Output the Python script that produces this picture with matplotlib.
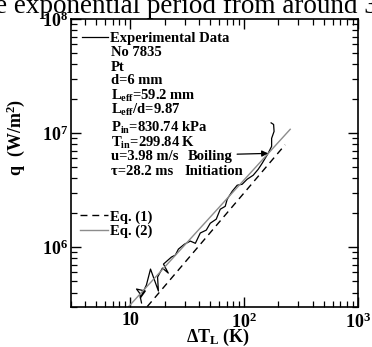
import numpy as np
import matplotlib
matplotlib.use("Agg")
import matplotlib.pyplot as plt
from matplotlib.lines import Line2D

plt.rcParams.update({
    "font.family": "Liberation Serif",
    "font.weight": "bold",
    "axes.labelweight": "bold",
    "mathtext.fontset": "custom",
    "mathtext.rm": "Liberation Serif:bold",
    "mathtext.it": "Liberation Serif:bold",
    "mathtext.bf": "Liberation Serif:bold",
})

exp_dT = [12.5, 12.0, 11.3, 13.5, 12.2, 13.8, 15.0, 17.6, 17.3, 19.1, 21.5, 19.5,
          22.9, 24.8, 26.4, 29.8, 33.6, 37.2, 41.1, 46.4, 50.3, 56.8, 61.6, 68.1,
          70.9, 78.5, 86.8, 96.0, 106.2, 120.0, 132.7, 143.8, 152.9, 162.4,
          174.3, 174.3, 183.2, 181.5, 172.6]
exp_q = [3.24e5, 3.96e5, 4.29e5, 4.12e5, 3.58e5, 4.65e5, 6.42e5, 4.12e5, 5.46e5,
         6.55e5, 5.92e5, 7.10e5, 8.18e5, 8.51e5, 9.61e5, 1.06e6, 1.13e6, 1.08e6,
         1.33e6, 1.41e6, 1.62e6, 1.76e6, 2.15e6, 2.28e6, 2.63e6, 3.09e6, 3.49e6,
         3.56e6, 3.94e6, 4.27e6, 4.81e6, 5.43e6, 6.01e6, 6.64e6, 7.65e6, 8.99e6,
         1.035e7, 1.19e7, 1.23e7]
boil_idx = 33  # boiling initiation point

# correlation lines
eq1_dT = [14.0, 229.0]
eq1_q = [3.0e5, 7.9e6]
eq2_dT = [9.6, 254.0]
eq2_q = [3.0e5, 1.08e7]

info = ["No 7835", "Pt", "d=6 mm", "L$_\\mathdefault{eff}$=59.2 mm",
        "L$_\\mathdefault{eff}$/d=9.87", "P$_\\mathdefault{in}$=830.74 kPa",
        "T$_\\mathdefault{in}$=299.84 K", "u=3.98 m/s", "\u03c4=28.2 ms"]
info_y = [0.885, 0.833, 0.785, 0.733, 0.684, 0.622, 0.569, 0.521, 0.469]

fig = plt.figure(figsize=(3.72, 3.47), dpi=100)
ax = fig.add_axes([0.191, 0.116, 0.771, 0.829])

ax.plot(exp_dT, exp_q, color="black", lw=0.9)
ax.plot(eq1_dT, eq1_q, color="black", lw=1.0, dashes=(5, 3.5))
ax.plot(eq2_dT, eq2_q, color="#8c8c8c", lw=1.0)

ax.set_xscale("log")
ax.set_yscale("log")
ax.set_xlim(3, 1000)
ax.set_ylim(3e5, 1e8)

ax.set_xticks([10, 100, 1000])
ax.set_xticklabels(["10", "$\\mathdefault{10^{2}}$", "$\\mathdefault{10^{3}}$"])
ax.set_yticks([1e6, 1e7, 1e8])
ax.set_yticklabels(["$\\mathdefault{10^{6}}$", "$\\mathdefault{10^{7}}$",
                    "$\\mathdefault{10^{8}}$"])

ax.tick_params(which="both", direction="in", top=True, right=True, labelsize=13)
ax.tick_params(which="major", length=7, width=1)
ax.tick_params(which="minor", length=4.3, width=0.9)
ax.tick_params(axis="x", pad=4)
ax.tick_params(axis="y", pad=2)
for s in ax.spines.values():
    s.set_linewidth(1.2)

ax.set_xlabel("\u0394T$_\\mathdefault{L}$ (K)", fontsize=13)
ax.xaxis.set_label_coords(0.512, -0.07)
ax.set_ylabel("q  (W/m$^\\mathdefault{2}$)", fontsize=13)
ax.yaxis.set_label_coords(-0.155, 0.59)

# legends
h_exp = Line2D([], [], color="black", lw=0.9)
leg1 = ax.legend([h_exp], ["Experimental Data"], loc="upper left",
                 bbox_to_anchor=(0.038, 0.955), frameon=False, fontsize=10.5,
                 handlelength=1.8, handletextpad=0.1, borderpad=0, borderaxespad=0)
ax.add_artist(leg1)
h1 = Line2D([], [], color="black", lw=1.0, dashes=(5, 3.5))
h2 = Line2D([], [], color="#8c8c8c", lw=1.0)
ax.legend([h1, h2], ["Eq. (1)", "Eq. (2)"], loc="upper left",
          bbox_to_anchor=(0.031, 0.336), frameon=False, fontsize=10.5,
          handlelength=1.9, handletextpad=0.15, labelspacing=0.05,
          borderpad=0, borderaxespad=0)

for txt, yy in zip(info, info_y):
    ax.text(0.139, yy, txt, transform=ax.transAxes, fontsize=10.5,
            ha="left", va="center")

ax.annotate("Boiling", xy=(exp_dT[boil_idx], exp_q[boil_idx]),
            xytext=(0.408, 0.521), textcoords="axes fraction",
            fontsize=10.5, ha="left", va="center",
            arrowprops=dict(arrowstyle="-|>", color="black", lw=0.9,
                            relpos=(1, 0.7), shrinkA=1, shrinkB=0,
                            mutation_scale=9))
ax.text(0.397, 0.469, "Initiation", transform=ax.transAxes, fontsize=10.5,
        ha="left", va="center")

# cropped line of surrounding document text
fig.text(-0.07, 1 - 13 / 347, "the exponential period from around 3",
         fontsize=19.5, fontweight="normal", va="baseline", ha="left")

fig.savefig("out.png", dpi=100)
